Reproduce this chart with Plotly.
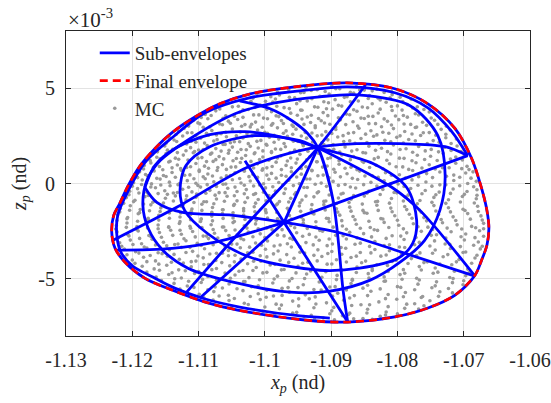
import plotly.graph_objects as go

# ---------------- data (x_p in nd, z_p in units of 1e-3 nd) ----------------
x_tickvals = [-1.13, -1.12, -1.11, -1.10, -1.09, -1.08, -1.07, -1.06]
x_ticktext = ["-1.13", "-1.12", "-1.11", "-1.1", "-1.09", "-1.08", "-1.07", "-1.06"]
z_tickvals = [-5, 0, 5]
z_ticktext = ["-5", "0", "5"]

# Final envelope (closed)
env_x = [-1.1231, -1.1228, -1.1219, -1.1206, -1.1188, -1.1166, -1.1140, -1.1105, -1.1068, -1.1022,
         -1.0955, -1.0875, -1.0804, -1.0754, -1.0713, -1.0688, -1.0673, -1.0665, -1.0662, -1.0665,
         -1.0673, -1.0683, -1.0713, -1.0754, -1.0804, -1.0875, -1.0940, -1.1041, -1.1090, -1.1140,
         -1.1181, -1.1211, -1.1226, -1.1231]
env_z = [-2.56, -1.67, -1.05, -0.10, 0.94, 1.83, 2.67, 3.50, 4.18, 4.70,
         5.07, 5.28, 4.97, 4.18, 2.88, 1.31, -0.26, -1.41, -2.35, -3.24,
         -4.02, -4.81, -5.85, -6.53, -7.00, -7.27, -7.16, -6.64, -6.22, -5.59,
         -4.97, -4.13, -3.40, -2.56]

# Sub-envelopes
hug_x = [-1.0694, -1.0718, -1.0754, -1.0804, -1.0875, -1.0947, -1.1022, -1.1090, -1.1140, -1.1181,
         -1.1206, -1.1222, -1.1223, -1.1217, -1.1199, -1.1169, -1.1136, -1.1090, -1.1038, -1.0947, -1.0902]
hug_z = [1.46, 2.72, 3.97, 4.76, 5.07, 4.86, 4.50, 3.71, 2.40, 1.10,
         -0.37, -1.67, -2.82, -3.61, -4.34, -4.91, -5.49, -6.06, -6.48, -6.95, -7.06]

ring_x = [-1.1184, -1.1178, -1.1158, -1.1113, -1.1045, -1.0985, -1.0917, -1.0860, -1.0781, -1.0739,
          -1.0728, -1.0736, -1.0759, -1.0796, -1.0841, -1.0902, -1.0962, -1.1041, -1.1116, -1.1154,
          -1.1176, -1.1184]
ring_z = [-1.15, 0.16, 1.20, 2.35, 3.66, 4.23, 4.55, 4.65, 4.08, 2.51,
          0.42, -1.41, -2.98, -4.13, -5.07, -5.65, -5.70, -5.23, -4.44, -3.50,
          -2.35, -1.15]

p_up_x = [-1.1181, -1.1166, -1.1136, -1.1083, -1.1030, -1.0970, -1.0920]
p_up_z = [-0.21, 0.94, 1.83, 2.56, 2.72, 2.40, 1.88]
p_ab_x = [-1.0920, -1.0971]
p_ab_z = [1.88, -2.04]
p_low_x = [-1.0971, -1.1048, -1.1124, -1.1163, -1.1181]
p_low_z = [-2.04, -1.67, -1.52, -0.99, -0.21]

q_x = [-1.1128, -1.1119, -1.1083, -1.1015, -1.0947, -1.0920, -1.0837, -1.0786, -1.0771, -1.0777,
       -1.0799, -1.0857, -1.0917, -1.1022, -1.1087, -1.1121, -1.1128]
q_z = [-0.37, 0.94, 1.93, 2.51, 2.25, 1.88, 1.05, -0.21, -1.93, -3.14,
       -3.92, -4.44, -4.55, -3.87, -2.61, -1.41, -0.37]

fae_x = [-1.1229, -1.1133, -1.1027, -1.0947, -1.0887, -1.0796, -1.0728, -1.0694]
fae_z = [-2.98, -1.25, 0.84, 1.73, 2.04, 2.09, 1.93, 1.46]
eb_x = [-1.0694, -1.0971]
eb_z = [1.46, -2.04]

fb_x = [-1.1226, -1.1140, -1.1075, -1.0971]
fb_z = [-3.50, -3.40, -3.08, -2.04]
bd_x = [-1.0971, -1.0884, -1.0793, -1.0683]
bd_z = [-2.04, -2.61, -3.61, -4.86]
lb_x = [-1.1098, -1.0971]
lb_z = [-6.01, -2.04]

l5_x = [-1.1118, -1.1045, -1.0980, -1.0920, -1.0848]
l5_z = [-5.70, -2.82, -0.37, 1.88, 5.18]
l6_x = [-1.1038, -1.0992, -1.0959, -1.0935, -1.0920, -1.0897, -1.0882, -1.0875]
l6_z = [4.34, 3.92, 3.29, 2.61, 1.88, -0.89, -5.59, -7.27]
l7_x = [-1.1030, -1.0971, -1.0875]
l7_z = [1.20, -2.04, -7.27]
l9_x = [-1.0920, -1.0808, -1.0766, -1.0683]
l9_z = [1.88, -0.21, -1.41, -4.86]

# Monte Carlo samples (two interleaved sets of rows)
mc_x = [
    -1.0938, -1.0921, -1.0899, -1.0887, -1.0862, -1.0850, -1.0831,
    -1.1012, -1.0991, -1.0978, -1.0955, -1.0941, -1.0917, -1.0903, -1.0880, -1.0866, -1.0842, -1.0829, -1.0808, -1.0796,
    -1.1058, -1.1040, -1.1021, -1.1007, -1.0988, -1.0971, -1.0952, -1.0936, -1.0925, -1.0904, -1.0889, -1.0871, -1.0853, -1.0838, -1.0817, -1.0800, -1.0785, -1.0770,
    -1.1090, -1.1074, -1.1059, -1.1038, -1.1025, -1.1009, -1.0990, -1.0979, -1.0961, -1.0946, -1.0930, -1.0912, -1.0898, -1.0877, -1.0861, -1.0844, -1.0829, -1.0808, -1.0791, -1.0773, -1.0752,
    -1.1108, -1.1101, -1.1086, -1.1068, -1.1055, -1.1041, -1.1030, -1.1014, -1.1002, -1.0988, -1.0975, -1.0959, -1.0944, -1.0931, -1.0915, -1.0902, -1.0886, -1.0867, -1.0850, -1.0833, -1.0815, -1.0798, -1.0780, -1.0762, -1.0744,
    -1.1130, -1.1122, -1.1110, -1.1093, -1.1080, -1.1066, -1.1049, -1.1037, -1.1022, -1.1011, -1.0996, -1.0981, -1.0968, -1.0953, -1.0939, -1.0924, -1.0908, -1.0893, -1.0874, -1.0858, -1.0840, -1.0822, -1.0806, -1.0789, -1.0771, -1.0752, -1.0734, -1.0720,
    -1.1144, -1.1137, -1.1124, -1.1111, -1.1097, -1.1085, -1.1072, -1.1058, -1.1046, -1.1033, -1.1019, -1.1006, -1.0993, -1.0979, -1.0966, -1.0950, -1.0937, -1.0921, -1.0905, -1.0890, -1.0872, -1.0855, -1.0836, -1.0819, -1.0801, -1.0783, -1.0765, -1.0746, -1.0727, -1.0711,
    -1.1160, -1.1151, -1.1139, -1.1126, -1.1112, -1.1100, -1.1087, -1.1074, -1.1060, -1.1049, -1.1036, -1.1022, -1.1010, -1.0997, -1.0984, -1.0969, -1.0955, -1.0942, -1.0928, -1.0911, -1.0896, -1.0879, -1.0861, -1.0843, -1.0824, -1.0806, -1.0787, -1.0768, -1.0749, -1.0729, -1.0710,
    -1.1170, -1.1163, -1.1149, -1.1135, -1.1123, -1.1108, -1.1095, -1.1082, -1.1069, -1.1055, -1.1043, -1.1029, -1.1016, -1.1003, -1.0990, -1.0976, -1.0961, -1.0947, -1.0932, -1.0917, -1.0901, -1.0884, -1.0866, -1.0848, -1.0829, -1.0810, -1.0790, -1.0770, -1.0750, -1.0731, -1.0712, -1.0699,
    -1.1182, -1.1172, -1.1159, -1.1145, -1.1132, -1.1118, -1.1104, -1.1091, -1.1078, -1.1064, -1.1051, -1.1037, -1.1024, -1.1011, -1.0997, -1.0983, -1.0968, -1.0953, -1.0938, -1.0922, -1.0906, -1.0888, -1.0870, -1.0851, -1.0832, -1.0812, -1.0792, -1.0772, -1.0752, -1.0732, -1.0712, -1.0695,
    -1.1189, -1.1180, -1.1167, -1.1153, -1.1140, -1.1126, -1.1113, -1.1099, -1.1086, -1.1072, -1.1058, -1.1045, -1.1031, -1.1018, -1.1004, -1.0990, -1.0975, -1.0960, -1.0945, -1.0929, -1.0912, -1.0894, -1.0876, -1.0857, -1.0838, -1.0818, -1.0797, -1.0777, -1.0756, -1.0736, -1.0715, -1.0697, -1.0686,
    -1.1198, -1.1185, -1.1171, -1.1158, -1.1144, -1.1131, -1.1117, -1.1104, -1.1090, -1.1077, -1.1063, -1.1049, -1.1036, -1.1022, -1.1008, -1.0994, -1.0979, -1.0964, -1.0948, -1.0932, -1.0915, -1.0897, -1.0879, -1.0860, -1.0840, -1.0820, -1.0799, -1.0778, -1.0757, -1.0736, -1.0715, -1.0694, -1.0681,
    -1.1204, -1.1192, -1.1178, -1.1165, -1.1151, -1.1138, -1.1124, -1.1110, -1.1097, -1.1083, -1.1069, -1.1056, -1.1042, -1.1028, -1.1014, -1.0999, -1.0984, -1.0969, -1.0953, -1.0936, -1.0919, -1.0901, -1.0882, -1.0863, -1.0843, -1.0822, -1.0801, -1.0780, -1.0758, -1.0737, -1.0716, -1.0695, -1.0680,
    -1.1209, -1.1196, -1.1181, -1.1166, -1.1150, -1.1135, -1.1119, -1.1104, -1.1088, -1.1073, -1.1057, -1.1042, -1.1026, -1.1010, -1.0994, -1.0978, -1.0961, -1.0944, -1.0926, -1.0908, -1.0889, -1.0870, -1.0850, -1.0830, -1.0809, -1.0788, -1.0766, -1.0745, -1.0723, -1.0702, -1.0681,
    -1.1218, -1.1203, -1.1188, -1.1172, -1.1157, -1.1141, -1.1126, -1.1110, -1.1095, -1.1079, -1.1063, -1.1047, -1.1032, -1.1016, -1.0999, -1.0983, -1.0966, -1.0948, -1.0930, -1.0911, -1.0892, -1.0872, -1.0852, -1.0831, -1.0810, -1.0789, -1.0767, -1.0745, -1.0723, -1.0701, -1.0679,
    -1.1222, -1.1207, -1.1191, -1.1176, -1.1160, -1.1144, -1.1128, -1.1112, -1.1096, -1.1080, -1.1064, -1.1048, -1.1032, -1.1015, -1.0998, -1.0981, -1.0963, -1.0945, -1.0926, -1.0907, -1.0887, -1.0867, -1.0846, -1.0825, -1.0804, -1.0782, -1.0760, -1.0738, -1.0716, -1.0694, -1.0674,
    -1.1224, -1.1208, -1.1193, -1.1177, -1.1161, -1.1145, -1.1129, -1.1113, -1.1097, -1.1081, -1.1064, -1.1048, -1.1031, -1.1014, -1.0997, -1.0979, -1.0961, -1.0942, -1.0923, -1.0903, -1.0883, -1.0862, -1.0841, -1.0820, -1.0798, -1.0776, -1.0754, -1.0732, -1.0710, -1.0688, -1.0670,
    -1.1223, -1.1207, -1.1191, -1.1175, -1.1159, -1.1142, -1.1126, -1.1109, -1.1093, -1.1076, -1.1059, -1.1042, -1.1025, -1.1007, -1.0989, -1.0971, -1.0952, -1.0933, -1.0913, -1.0893, -1.0872, -1.0851, -1.0830, -1.0808, -1.0786, -1.0764, -1.0741, -1.0719, -1.0697, -1.0676,
    -1.1219, -1.1203, -1.1186, -1.1170, -1.1153, -1.1136, -1.1119, -1.1102, -1.1085, -1.1067, -1.1050, -1.1032, -1.1014, -1.0996, -1.0977, -1.0958, -1.0938, -1.0918, -1.0898, -1.0877, -1.0856, -1.0834, -1.0812, -1.0790, -1.0767, -1.0744, -1.0721, -1.0699, -1.0678,
    -1.1212, -1.1195, -1.1178, -1.1161, -1.1144, -1.1126, -1.1109, -1.1091, -1.1073, -1.1055, -1.1037, -1.1018, -1.0999, -1.0980, -1.0960, -1.0940, -1.0920, -1.0899, -1.0878, -1.0856, -1.0834, -1.0812, -1.0789, -1.0766, -1.0743, -1.0720, -1.0697, -1.0675,
    -1.1200, -1.1183, -1.1165, -1.1147, -1.1129, -1.1111, -1.1093, -1.1074, -1.1055, -1.1036, -1.1017, -1.0997, -1.0977, -1.0956, -1.0935, -1.0914, -1.0892, -1.0870, -1.0848, -1.0825, -1.0802, -1.0779, -1.0755, -1.0731, -1.0707, -1.0683,
    -1.1185, -1.1167, -1.1148, -1.1130, -1.1111, -1.1092, -1.1073, -1.1053, -1.1033, -1.1013, -1.0992, -1.0971, -1.0950, -1.0928, -1.0906, -1.0884, -1.0861, -1.0838, -1.0815, -1.0791, -1.0767, -1.0743, -1.0718, -1.0694,
    -1.1164, -1.1145, -1.1126, -1.1106, -1.1086, -1.1066, -1.1045, -1.1024, -1.1003, -1.0981, -1.0959, -1.0937, -1.0914, -1.0891, -1.0868, -1.0844, -1.0820, -1.0796, -1.0771, -1.0746, -1.0721, -1.0697,
    -1.1137, -1.1117, -1.1096, -1.1075, -1.1054, -1.1032, -1.1010, -1.0988, -1.0965, -1.0942, -1.0918, -1.0894, -1.0870, -1.0845, -1.0820, -1.0795, -1.0769, -1.0743, -1.0717, -1.0701,
    -1.1099, -1.1077, -1.1055, -1.1033, -1.1010, -1.0987, -1.0963, -1.0939, -1.0915, -1.0890, -1.0865, -1.0840, -1.0814, -1.0788, -1.0762, -1.0736, -1.0717,
    -1.1078, -1.1054, -1.1031, -1.1007, -1.0983, -1.0958, -1.0933, -1.0907, -1.0881, -1.0855, -1.0828, -1.0801, -1.0774, -1.0751,
    -1.1003, -1.0978, -1.0952, -1.0926, -1.0899, -1.0872, -1.0845, -1.0817, -1.0789, -1.0768,
    -1.0941, -1.0912, -1.0883, -1.0852, -1.0826,
]
mc_z = [
    5.05, 4.92, 5.11, 4.97, 5.08, 4.90, 4.95,
    4.71, 4.55, 4.64, 4.49, 4.78, 4.58, 4.69, 4.52, 4.74, 4.61, 4.47, 4.66, 4.53,
    4.22, 4.05, 4.31, 4.12, 4.27, 3.98, 4.19, 4.33, 4.02, 4.24, 4.10, 4.29, 4.01, 4.18, 4.26, 4.07, 4.14, 4.03,
    3.62, 3.81, 3.55, 3.74, 3.88, 3.60, 3.77, 3.51, 3.69, 3.85, 3.58, 3.72, 3.90, 3.64, 3.79, 3.53, 3.70, 3.83, 3.57, 3.66, 3.75,
    3.31, 3.18, 3.40, 3.12, 3.27, 3.36, 3.09, 3.22, 3.43, 3.15, 3.30, 3.07, 3.38, 3.20, 3.29, 3.11, 3.34, 3.24, 3.41, 3.14, 3.26, 3.35, 3.10, 3.21, 3.32,
    2.74, 2.89, 2.66, 2.95, 2.78, 2.61, 2.86, 2.70, 2.97, 2.81, 2.63, 2.92, 2.76, 2.85, 2.68, 2.93, 2.72, 2.83, 2.64, 2.90, 2.77, 2.69, 2.88, 2.73, 2.96, 2.67, 2.84, 2.79,
    2.41, 2.28, 2.49, 2.22, 2.37, 2.53, 2.30, 2.45, 2.19, 2.39, 2.51, 2.26, 2.43, 2.33, 2.47, 2.21, 2.38, 2.50, 2.29, 2.44, 2.24, 2.36, 2.48, 2.27, 2.42, 2.31, 2.52, 2.25, 2.40, 2.34,
    1.84, 1.97, 1.79, 2.03, 1.88, 1.76, 1.99, 1.83, 2.05, 1.91, 1.78, 1.95, 1.86, 2.01, 1.81, 1.93, 1.75, 1.98, 1.87, 2.04, 1.80, 1.92, 1.77, 1.96, 1.85, 2.02, 1.82, 1.94, 1.79, 1.89, 1.97,
    1.52, 1.38, 1.57, 1.33, 1.49, 1.61, 1.36, 1.54, 1.41, 1.59, 1.31, 1.47, 1.56, 1.39, 1.62, 1.44, 1.34, 1.53, 1.40, 1.58, 1.35, 1.50, 1.42, 1.60, 1.37, 1.55, 1.32, 1.48, 1.43, 1.57, 1.39, 1.46,
    0.94, 1.08, 0.89, 1.13, 0.97, 0.84, 1.05, 0.91, 1.16, 0.99, 0.86, 1.10, 0.93, 1.03, 0.82, 1.12, 0.95, 1.07, 0.88, 1.14, 0.92, 1.01, 0.85, 1.11, 0.96, 1.04, 0.87, 1.09, 0.98, 0.83, 1.06, 0.90,
    0.61, 0.47, 0.66, 0.42, 0.58, 0.69, 0.45, 0.63, 0.50, 0.68, 0.40, 0.56, 0.64, 0.48, 0.70, 0.53, 0.43, 0.62, 0.49, 0.67, 0.44, 0.59, 0.51, 0.65, 0.41, 0.57, 0.46, 0.68, 0.52, 0.60, 0.44, 0.55, 0.61,
    0.04, 0.18, -0.02, 0.23, 0.07, -0.06, 0.15, 0.01, 0.25, 0.09, -0.04, 0.20, 0.03, 0.13, -0.08, 0.22, 0.05, 0.17, -0.01, 0.24, 0.02, 0.11, -0.05, 0.21, 0.06, 0.14, -0.03, 0.19, 0.08, -0.07, 0.16, 0.00, 0.12,
    -0.41, -0.27, -0.46, -0.22, -0.38, -0.50, -0.30, -0.44, -0.19, -0.36, -0.48, -0.25, -0.42, -0.32, -0.53, -0.23, -0.40, -0.28, -0.47, -0.21, -0.43, -0.34, -0.51, -0.24, -0.39, -0.31, -0.49, -0.26, -0.37, -0.45, -0.29, -0.42, -0.33,
    -0.74, -0.88, -0.69, -0.93, -0.77, -0.65, -0.86, -0.72, -0.96, -0.81, -0.67, -0.91, -0.75, -0.84, -0.63, -0.95, -0.78, -0.87, -0.70, -0.92, -0.76, -0.83, -0.66, -0.94, -0.79, -0.71, -0.89, -0.73, -0.85, -0.68, -0.80,
    -1.31, -1.17, -1.36, -1.12, -1.28, -1.40, -1.20, -1.34, -1.09, -1.26, -1.38, -1.15, -1.32, -1.22, -1.43, -1.13, -1.30, -1.18, -1.37, -1.11, -1.33, -1.24, -1.41, -1.14, -1.29, -1.21, -1.39, -1.16, -1.27, -1.35, -1.19,
    -1.64, -1.78, -1.59, -1.83, -1.67, -1.55, -1.76, -1.62, -1.86, -1.71, -1.57, -1.81, -1.65, -1.74, -1.53, -1.85, -1.68, -1.77, -1.60, -1.82, -1.66, -1.73, -1.56, -1.84, -1.69, -1.61, -1.79, -1.63, -1.75, -1.58, -1.70,
    -2.21, -2.07, -2.26, -2.02, -2.18, -2.30, -2.10, -2.24, -1.99, -2.16, -2.28, -2.05, -2.22, -2.12, -2.33, -2.03, -2.20, -2.08, -2.27, -2.01, -2.23, -2.14, -2.31, -2.04, -2.19, -2.11, -2.29, -2.06, -2.17, -2.25, -2.09,
    -2.54, -2.68, -2.49, -2.73, -2.57, -2.45, -2.66, -2.52, -2.76, -2.61, -2.47, -2.71, -2.55, -2.64, -2.43, -2.75, -2.58, -2.67, -2.50, -2.72, -2.56, -2.63, -2.46, -2.74, -2.59, -2.51, -2.69, -2.53, -2.65, -2.48,
    -3.11, -2.97, -3.16, -2.92, -3.08, -3.20, -3.00, -3.14, -2.89, -3.06, -3.18, -2.95, -3.12, -3.02, -3.23, -2.93, -3.10, -2.98, -3.17, -2.91, -3.13, -3.04, -3.21, -2.94, -3.09, -3.01, -3.19, -2.96, -3.07,
    -3.44, -3.58, -3.39, -3.63, -3.47, -3.35, -3.56, -3.42, -3.66, -3.51, -3.37, -3.61, -3.45, -3.54, -3.33, -3.65, -3.48, -3.57, -3.40, -3.62, -3.46, -3.53, -3.36, -3.64, -3.49, -3.41, -3.59, -3.43,
    -4.01, -3.87, -4.06, -3.82, -3.98, -4.10, -3.90, -4.04, -3.79, -3.96, -4.08, -3.85, -4.02, -3.92, -4.13, -3.83, -4.00, -3.88, -4.07, -3.81, -4.03, -3.94, -4.11, -3.84, -3.99, -3.91,
    -4.34, -4.48, -4.29, -4.53, -4.37, -4.25, -4.46, -4.32, -4.56, -4.41, -4.27, -4.51, -4.35, -4.44, -4.23, -4.55, -4.38, -4.47, -4.30, -4.52, -4.36, -4.43, -4.26, -4.49,
    -4.91, -4.77, -4.96, -4.72, -4.88, -5.00, -4.80, -4.94, -4.69, -4.86, -4.98, -4.75, -4.92, -4.82, -5.03, -4.73, -4.90, -4.78, -4.97, -4.71, -4.93, -4.84,
    -5.24, -5.38, -5.19, -5.43, -5.27, -5.15, -5.36, -5.22, -5.46, -5.31, -5.17, -5.41, -5.25, -5.34, -5.13, -5.45, -5.28, -5.37, -5.20, -5.31,
    -5.81, -5.67, -5.86, -5.62, -5.78, -5.90, -5.70, -5.84, -5.59, -5.76, -5.88, -5.65, -5.82, -5.72, -5.93, -5.68, -5.74,
    -6.12, -6.14, -6.28, -6.09, -6.33, -6.17, -6.05, -6.26, -6.12, -6.36, -6.21, -6.07, -6.31, -6.15,
    -6.71, -6.57, -6.76, -6.52, -6.68, -6.80, -6.60, -6.74, -6.55, -6.58,
    -6.98, -7.05, -6.94, -7.08, -6.96,
]
mc2_x = [
    -1.0981, -1.0964, -1.0946, -1.0930, -1.0909, -1.0893, -1.0871, -1.0857, -1.0838, -1.0820, -1.0809,
    -1.1036, -1.1018, -1.0999, -1.0984, -1.0963, -1.0947, -1.0929, -1.0911, -1.0894, -1.0876, -1.0859, -1.0844, -1.0826, -1.0811, -1.0792, -1.0779,
    -1.1068, -1.1049, -1.1033, -1.1015, -1.0997, -1.0982, -1.0963, -1.0944, -1.0920, -1.0907, -1.0884, -1.0866, -1.0845, -1.0826, -1.0809, -1.0793, -1.0777, -1.0760,
    -1.1096, -1.1081, -1.1063, -1.1046, -1.1033, -1.1017, -1.0996, -1.0983, -1.0966, -1.0951, -1.0936, -1.0919, -1.0905, -1.0889, -1.0872, -1.0855, -1.0837, -1.0820, -1.0803, -1.0785, -1.0768, -1.0749,
    -1.1115, -1.1098, -1.1083, -1.1064, -1.1052, -1.1035, -1.1020, -1.1004, -1.0990, -1.0972, -1.0957, -1.0941, -1.0924, -1.0910, -1.0893, -1.0878, -1.0860, -1.0843, -1.0824, -1.0809, -1.0790, -1.0773, -1.0756, -1.0739, -1.0726,
    -1.1134, -1.1117, -1.1104, -1.1088, -1.1073, -1.1059, -1.1043, -1.1027, -1.1015, -1.1000, -1.0986, -1.0972, -1.0958, -1.0945, -1.0929, -1.0914, -1.0899, -1.0882, -1.0866, -1.0848, -1.0831, -1.0813, -1.0796, -1.0778, -1.0761, -1.0742, -1.0727,
    -1.1149, -1.1133, -1.1118, -1.1104, -1.1091, -1.1077, -1.1063, -1.1052, -1.1038, -1.1025, -1.1012, -1.0998, -1.0986, -1.0971, -1.0957, -1.0943, -1.0928, -1.0914, -1.0897, -1.0881, -1.0864, -1.0846, -1.0828, -1.0810, -1.0791, -1.0773, -1.0755, -1.0737, -1.0719,
    -1.1162, -1.1147, -1.1132, -1.1119, -1.1106, -1.1093, -1.1080, -1.1066, -1.1054, -1.1041, -1.1028, -1.1015, -1.1003, -1.0990, -1.0976, -1.0962, -1.0948, -1.0935, -1.0919, -1.0903, -1.0887, -1.0869, -1.0852, -1.0833, -1.0815, -1.0796, -1.0777, -1.0758, -1.0738, -1.0719, -1.0704,
    -1.1173, -1.1158, -1.1143, -1.1130, -1.1116, -1.1101, -1.1088, -1.1074, -1.1062, -1.1048, -1.1035, -1.1021, -1.1008, -1.0994, -1.0981, -1.0966, -1.0951, -1.0937, -1.0921, -1.0905, -1.0888, -1.0871, -1.0853, -1.0835, -1.0816, -1.0797, -1.0778, -1.0759, -1.0740, -1.0720, -1.0702,
    -1.1183, -1.1168, -1.1154, -1.1140, -1.1127, -1.1112, -1.1099, -1.1085, -1.1071, -1.1058, -1.1044, -1.1031, -1.1017, -1.1003, -1.0989, -1.0975, -1.0960, -1.0945, -1.0929, -1.0913, -1.0896, -1.0879, -1.0861, -1.0842, -1.0822, -1.0802, -1.0783, -1.0763, -1.0743, -1.0722, -1.0703, -1.0692,
    -1.1192, -1.1177, -1.1163, -1.1149, -1.1135, -1.1121, -1.1107, -1.1093, -1.1079, -1.1066, -1.1052, -1.1038, -1.1024, -1.1011, -1.0997, -1.0983, -1.0968, -1.0952, -1.0937, -1.0920, -1.0903, -1.0886, -1.0868, -1.0849, -1.0829, -1.0809, -1.0788, -1.0768, -1.0747, -1.0726, -1.0706, -1.0689,
    -1.1200, -1.1186, -1.1172, -1.1157, -1.1143, -1.1129, -1.1115, -1.1101, -1.1087, -1.1073, -1.1059, -1.1045, -1.1031, -1.1017, -1.1002, -1.0988, -1.0973, -1.0957, -1.0941, -1.0924, -1.0907, -1.0889, -1.0871, -1.0851, -1.0831, -1.0810, -1.0790, -1.0769, -1.0748, -1.0727, -1.0706, -1.0685,
    -1.1205, -1.1190, -1.1176, -1.1161, -1.1147, -1.1132, -1.1118, -1.1103, -1.1089, -1.1075, -1.1060, -1.1046, -1.1031, -1.1017, -1.1002, -1.0987, -1.0971, -1.0955, -1.0938, -1.0921, -1.0903, -1.0885, -1.0866, -1.0846, -1.0826, -1.0805, -1.0784, -1.0763, -1.0742, -1.0720, -1.0699, -1.0680,
    -1.1213, -1.1198, -1.1183, -1.1169, -1.1153, -1.1138, -1.1123, -1.1107, -1.1092, -1.1077, -1.1061, -1.1046, -1.1030, -1.1014, -1.0998, -1.0981, -1.0964, -1.0947, -1.0929, -1.0911, -1.0892, -1.0873, -1.0853, -1.0833, -1.0812, -1.0791, -1.0770, -1.0748, -1.0727, -1.0705, -1.0684,
    -1.1219, -1.1204, -1.1189, -1.1174, -1.1158, -1.1142, -1.1127, -1.1111, -1.1095, -1.1080, -1.1064, -1.1048, -1.1032, -1.1015, -1.0999, -1.0982, -1.0964, -1.0946, -1.0928, -1.0909, -1.0890, -1.0870, -1.0850, -1.0829, -1.0808, -1.0786, -1.0764, -1.0742, -1.0720, -1.0698, -1.0678,
    -1.1223, -1.1208, -1.1192, -1.1176, -1.1160, -1.1144, -1.1128, -1.1112, -1.1096, -1.1079, -1.1063, -1.1046, -1.1030, -1.1013, -1.0996, -1.0978, -1.0960, -1.0942, -1.0923, -1.0904, -1.0884, -1.0864, -1.0843, -1.0822, -1.0800, -1.0778, -1.0756, -1.0734, -1.0712, -1.0690, -1.0672,
    -1.1225, -1.1209, -1.1193, -1.1177, -1.1161, -1.1145, -1.1128, -1.1112, -1.1095, -1.1078, -1.1062, -1.1045, -1.1027, -1.1010, -1.0992, -1.0974, -1.0955, -1.0936, -1.0917, -1.0897, -1.0877, -1.0856, -1.0835, -1.0813, -1.0791, -1.0769, -1.0747, -1.0725, -1.0703, -1.0682, -1.0670,
    -1.1221, -1.1205, -1.1189, -1.1172, -1.1156, -1.1139, -1.1122, -1.1105, -1.1088, -1.1071, -1.1054, -1.1036, -1.1018, -1.1000, -1.0981, -1.0962, -1.0943, -1.0923, -1.0903, -1.0882, -1.0861, -1.0839, -1.0817, -1.0795, -1.0772, -1.0749, -1.0727, -1.0704, -1.0683, -1.0670,
    -1.1216, -1.1199, -1.1182, -1.1165, -1.1148, -1.1131, -1.1113, -1.1096, -1.1078, -1.1060, -1.1042, -1.1023, -1.1005, -1.0986, -1.0966, -1.0947, -1.0927, -1.0906, -1.0885, -1.0864, -1.0842, -1.0820, -1.0797, -1.0774, -1.0751, -1.0728, -1.0705, -1.0685, -1.0672,
    -1.1208, -1.1190, -1.1173, -1.1155, -1.1137, -1.1119, -1.1101, -1.1083, -1.1064, -1.1045, -1.1026, -1.1007, -1.0987, -1.0967, -1.0947, -1.0926, -1.0905, -1.0884, -1.0862, -1.0840, -1.0817, -1.0794, -1.0771, -1.0747, -1.0724, -1.0701, -1.0680,
    -1.1196, -1.1178, -1.1160, -1.1141, -1.1123, -1.1104, -1.1085, -1.1065, -1.1046, -1.1026, -1.1006, -1.0985, -1.0964, -1.0943, -1.0921, -1.0899, -1.0877, -1.0854, -1.0831, -1.0808, -1.0784, -1.0760, -1.0736, -1.0711, -1.0688,
    -1.1178, -1.1159, -1.1140, -1.1120, -1.1100, -1.1080, -1.1060, -1.1039, -1.1018, -1.0997, -1.0975, -1.0953, -1.0931, -1.0908, -1.0885, -1.0862, -1.0838, -1.0814, -1.0789, -1.0764, -1.0739, -1.0714, -1.0692,
    -1.1156, -1.1136, -1.1115, -1.1094, -1.1073, -1.1052, -1.1030, -1.1008, -1.0986, -1.0963, -1.0940, -1.0916, -1.0892, -1.0868, -1.0843, -1.0818, -1.0793, -1.0767, -1.0741, -1.0716, -1.0700,
    -1.1128, -1.1107, -1.1086, -1.1064, -1.1042, -1.1020, -1.0997, -1.0974, -1.0950, -1.0926, -1.0902, -1.0877, -1.0852, -1.0826, -1.0800, -1.0774, -1.0748, -1.0723,
    -1.1092, -1.1069, -1.1046, -1.1022, -1.0998, -1.0974, -1.0949, -1.0924, -1.0898, -1.0872, -1.0845, -1.0818, -1.0791, -1.0764, -1.0738,
    -1.1050, -1.1025, -1.1000, -1.0975, -1.0949, -1.0923, -1.0896, -1.0869, -1.0842, -1.0814, -1.0786, -1.0760,
    -1.0985, -1.0958, -1.0930, -1.0902, -1.0874, -1.0846, -1.0818, -1.0800,
    -1.0925, -1.0895, -1.0866, -1.0838,
]
mc2_z = [
    4.80, 4.93, 4.76, 4.88, 4.83, 4.97, 4.79, 4.91, 4.86, 4.78, 4.82,
    4.36, 4.48, 4.31, 4.43, 4.52, 4.34, 4.45, 4.29, 4.40, 4.55, 4.33, 4.46, 4.38, 4.50, 4.30, 4.42,
    3.91, 4.02, 3.86, 3.99, 3.89, 4.05, 3.93, 3.84, 4.00, 3.92, 4.06, 3.87, 3.97, 3.90, 4.04, 3.85, 3.96, 3.88,
    3.46, 3.57, 3.42, 3.53, 3.47, 3.60, 3.40, 3.55, 3.44, 3.58, 3.49, 3.41, 3.56, 3.45, 3.61, 3.43, 3.52, 3.39, 3.54, 3.48, 3.59, 3.44,
    3.01, 3.13, 2.97, 3.08, 3.16, 3.00, 3.11, 2.95, 3.06, 3.15, 2.99, 3.10, 3.03, 3.17, 2.96, 3.09, 3.02, 3.14, 2.98, 3.07, 3.12, 2.94, 3.05, 3.10, 3.00,
    2.57, 2.66, 2.52, 2.63, 2.55, 2.69, 2.50, 2.61, 2.56, 2.68, 2.53, 2.64, 2.58, 2.49, 2.65, 2.54, 2.62, 2.51, 2.67, 2.59, 2.55, 2.64, 2.50, 2.60, 2.66, 2.53, 2.58,
    2.11, 2.20, 2.07, 2.17, 2.12, 2.23, 2.05, 2.14, 2.19, 2.09, 2.21, 2.06, 2.16, 2.10, 2.22, 2.08, 2.18, 2.13, 2.04, 2.20, 2.11, 2.15, 2.07, 2.19, 2.12, 2.24, 2.09, 2.16, 2.10,
    1.66, 1.75, 1.62, 1.72, 1.68, 1.78, 1.60, 1.70, 1.74, 1.64, 1.77, 1.61, 1.71, 1.67, 1.79, 1.63, 1.73, 1.69, 1.59, 1.76, 1.65, 1.70, 1.62, 1.74, 1.67, 1.78, 1.64, 1.71, 1.66, 1.73, 1.68,
    1.21, 1.30, 1.17, 1.27, 1.23, 1.33, 1.15, 1.25, 1.29, 1.19, 1.32, 1.16, 1.26, 1.22, 1.34, 1.18, 1.28, 1.24, 1.14, 1.31, 1.20, 1.25, 1.17, 1.29, 1.22, 1.33, 1.19, 1.26, 1.21, 1.28, 1.23,
    0.76, 0.85, 0.72, 0.82, 0.78, 0.88, 0.70, 0.80, 0.84, 0.74, 0.87, 0.71, 0.81, 0.77, 0.89, 0.73, 0.83, 0.79, 0.69, 0.86, 0.75, 0.80, 0.72, 0.84, 0.77, 0.88, 0.74, 0.81, 0.76, 0.83, 0.78, 0.73,
    0.31, 0.40, 0.27, 0.37, 0.33, 0.43, 0.25, 0.35, 0.39, 0.29, 0.42, 0.26, 0.36, 0.32, 0.44, 0.28, 0.38, 0.34, 0.24, 0.41, 0.30, 0.35, 0.27, 0.39, 0.32, 0.43, 0.29, 0.36, 0.31, 0.38, 0.33, 0.28,
    -0.14, -0.05, -0.18, -0.08, -0.12, -0.02, -0.20, -0.10, -0.06, -0.16, -0.03, -0.19, -0.09, -0.13, -0.01, -0.17, -0.07, -0.11, -0.21, -0.04, -0.15, -0.10, -0.18, -0.06, -0.13, -0.02, -0.16, -0.09, -0.14, -0.07, -0.12, -0.17,
    -0.59, -0.50, -0.63, -0.53, -0.57, -0.47, -0.65, -0.55, -0.51, -0.61, -0.48, -0.64, -0.54, -0.58, -0.46, -0.62, -0.52, -0.56, -0.66, -0.49, -0.60, -0.55, -0.63, -0.51, -0.58, -0.47, -0.61, -0.54, -0.59, -0.52, -0.57, -0.62,
    -1.04, -0.95, -1.08, -0.98, -1.02, -0.92, -1.10, -1.00, -0.96, -1.06, -0.93, -1.09, -0.99, -1.03, -0.91, -1.07, -0.97, -1.01, -1.11, -0.94, -1.05, -1.00, -1.08, -0.96, -1.03, -0.92, -1.06, -0.99, -1.04, -0.97, -1.02,
    -1.49, -1.40, -1.53, -1.43, -1.47, -1.37, -1.55, -1.45, -1.41, -1.51, -1.38, -1.54, -1.44, -1.48, -1.36, -1.52, -1.42, -1.46, -1.56, -1.39, -1.50, -1.45, -1.53, -1.41, -1.48, -1.37, -1.51, -1.44, -1.49, -1.42, -1.47,
    -1.94, -1.85, -1.98, -1.88, -1.92, -1.82, -2.00, -1.90, -1.86, -1.96, -1.83, -1.99, -1.89, -1.93, -1.81, -1.97, -1.87, -1.91, -2.01, -1.84, -1.95, -1.90, -1.98, -1.86, -1.93, -1.82, -1.96, -1.89, -1.94, -1.87, -1.92,
    -2.39, -2.30, -2.43, -2.33, -2.37, -2.27, -2.45, -2.35, -2.31, -2.41, -2.28, -2.44, -2.34, -2.38, -2.26, -2.42, -2.32, -2.36, -2.46, -2.29, -2.40, -2.35, -2.43, -2.31, -2.38, -2.27, -2.41, -2.34, -2.39, -2.32, -2.37,
    -2.84, -2.75, -2.88, -2.78, -2.82, -2.72, -2.90, -2.80, -2.76, -2.86, -2.73, -2.89, -2.79, -2.83, -2.71, -2.87, -2.77, -2.81, -2.91, -2.74, -2.85, -2.80, -2.88, -2.76, -2.83, -2.72, -2.86, -2.79, -2.84, -2.77,
    -3.29, -3.20, -3.33, -3.23, -3.27, -3.17, -3.35, -3.25, -3.21, -3.31, -3.18, -3.34, -3.24, -3.28, -3.16, -3.32, -3.22, -3.26, -3.36, -3.19, -3.30, -3.25, -3.33, -3.21, -3.28, -3.17, -3.31, -3.24, -3.29,
    -3.74, -3.65, -3.78, -3.68, -3.72, -3.62, -3.80, -3.70, -3.66, -3.76, -3.63, -3.79, -3.69, -3.73, -3.61, -3.77, -3.67, -3.71, -3.81, -3.64, -3.75, -3.70, -3.78, -3.66, -3.73, -3.62, -3.76,
    -4.19, -4.10, -4.23, -4.13, -4.17, -4.07, -4.25, -4.15, -4.11, -4.21, -4.08, -4.24, -4.14, -4.18, -4.06, -4.22, -4.12, -4.16, -4.26, -4.09, -4.20, -4.15, -4.23, -4.11, -4.18,
    -4.64, -4.55, -4.68, -4.58, -4.62, -4.52, -4.70, -4.60, -4.56, -4.66, -4.53, -4.69, -4.59, -4.63, -4.51, -4.67, -4.57, -4.61, -4.71, -4.54, -4.65, -4.60, -4.68,
    -5.09, -5.00, -5.13, -5.03, -5.07, -4.97, -5.15, -5.05, -5.01, -5.11, -4.98, -5.14, -5.04, -5.08, -4.96, -5.12, -5.02, -5.06, -5.16, -4.99, -5.10,
    -5.54, -5.45, -5.58, -5.48, -5.52, -5.42, -5.60, -5.50, -5.46, -5.56, -5.43, -5.59, -5.49, -5.53, -5.41, -5.57, -5.47, -5.51,
    -5.99, -5.90, -6.03, -5.93, -5.97, -5.87, -6.05, -5.95, -5.91, -6.01, -5.88, -6.04, -5.94, -5.98, -5.92,
    -6.44, -6.35, -6.48, -6.38, -6.42, -6.32, -6.50, -6.40, -6.36, -6.46, -6.33, -6.41,
    -6.89, -6.80, -6.92, -6.83, -6.87, -6.79, -6.90, -6.84,
    -7.12, -7.15, -7.10, -7.13,
]

# ---------------- figure ----------------
BLUE = "#0000ff"
RED = "#ff0000"
GRAY = "#999999"
FONT = "Liberation Serif"
AX = "#262626"

n1 = min(len(mc_x), len(mc_z))
n2 = min(len(mc2_x), len(mc2_z))
all_mc_x = mc_x[:n1] + mc2_x[:n2]
all_mc_z = mc_z[:n1] + mc2_z[:n2]

fig = go.Figure()
fig.add_trace(go.Scatter(
    x=all_mc_x, y=all_mc_z, mode="markers", name="MC",
    marker=dict(color=GRAY, size=3.6, line=dict(width=0)),
    legendrank=3, hoverinfo="skip"))

sub_curves = [
    (hug_x, hug_z), (ring_x, ring_z), (p_up_x, p_up_z), (p_ab_x, p_ab_z), (p_low_x, p_low_z),
    (q_x, q_z), (fae_x, fae_z), (eb_x, eb_z), (fb_x, fb_z), (bd_x, bd_z), (lb_x, lb_z),
    (l5_x, l5_z), (l6_x, l6_z), (l7_x, l7_z), (l9_x, l9_z), (env_x, env_z),
]
for i, (cx, cz) in enumerate(sub_curves):
    fig.add_trace(go.Scatter(
        x=cx, y=cz, mode="lines", name="Sub-envelopes",
        line=dict(color=BLUE, width=2.8, shape="spline", smoothing=0.9),
        showlegend=(i == 0), legendrank=1, hoverinfo="skip"))

fig.add_trace(go.Scatter(
    x=env_x, y=env_z, mode="lines", name="Final envelope",
    line=dict(color=RED, width=2.6, dash="8px,5px", shape="spline", smoothing=0.9),
    legendrank=2, hoverinfo="skip"))

axis_common = dict(
    showline=True, linecolor=AX, linewidth=1, mirror="ticks",
    ticks="inside", ticklen=5, tickwidth=1, tickcolor=AX,
    showgrid=True, gridcolor="#e3e3e3", gridwidth=1, zeroline=False,
    tickfont=dict(family=FONT, size=20, color=AX),
)

fig.update_layout(
    width=551, height=403,
    margin=dict(l=66, r=21, t=31, b=67, autoexpand=False),
    paper_bgcolor="white", plot_bgcolor="white",
    font=dict(family=FONT, size=20, color=AX),
    showlegend=True,
    legend=dict(x=0.062, y=0.99, xanchor="left", yanchor="top",
                bgcolor="rgba(0,0,0,0)", borderwidth=0,
                font=dict(family=FONT, size=19, color=AX),
                tracegroupgap=0, itemwidth=30),
    xaxis=dict(range=[-1.13, -1.06], tickvals=x_tickvals, ticktext=x_ticktext,
               ticklabelstandoff=6,
               title=dict(text="<i>x</i><sub><i>p</i></sub> (nd)", standoff=4,
                          font=dict(family=FONT, size=20, color=AX)),
               **axis_common),
    yaxis=dict(range=[-8, 8], tickvals=z_tickvals, ticktext=z_ticktext,
               ticklabelstandoff=6,
               title=dict(text="<i>z</i><sub><i>p</i></sub> (nd)", standoff=6,
                          font=dict(family=FONT, size=20, color=AX)),
               **axis_common),
    annotations=[dict(text="×10<sup>-3</sup>", xref="paper", yref="paper",
                      x=0, y=1, xanchor="left", yanchor="bottom", yshift=-3,
                      showarrow=False, font=dict(family=FONT, size=21, color=AX))],
)

fig.write_html("out.html")
